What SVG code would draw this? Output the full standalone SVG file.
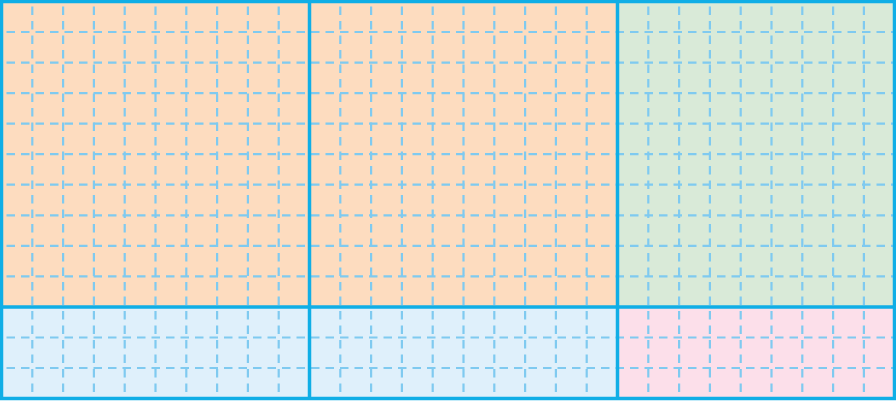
<svg xmlns="http://www.w3.org/2000/svg" width="896" height="401" viewBox="0 0 896 401">
<style>
.cell{stroke:none}
.grid{fill:none;stroke:#7fcaf0;stroke-width:2.2;stroke-dasharray:8.5 6}
.frame{fill:none;stroke:#10aee6;stroke-width:3.5}
</style>
<rect width="896" height="401" fill="#ffffff"/>
<g id="cells">
<rect id="cellA" class="cell" x="1.5" y="1.5" width="308" height="305.5" fill="#fddcbf"/>
<rect id="cellB" class="cell" x="309.5" y="1.5" width="308" height="305.5" fill="#fddcbf"/>
<rect id="cellC" class="cell" x="617.5" y="1.5" width="277" height="305.5" fill="#d9ead8"/>
<rect id="cellD" class="cell" x="1.5" y="307" width="308" height="91.5" fill="#dff0fb"/>
<rect id="cellE" class="cell" x="309.5" y="307" width="308" height="91.5" fill="#dff0fb"/>
<rect id="cellF" class="cell" x="617.5" y="307" width="277" height="91.5" fill="#fcdfea"/>
</g>
<g id="grid" class="grid" stroke-dashoffset="-5">
<path d="M32.3 1.5V398.5M63.1 1.5V398.5M93.9 1.5V398.5M124.7 1.5V398.5M155.5 1.5V398.5M186.3 1.5V398.5M217.1 1.5V398.5M247.9 1.5V398.5M278.7 1.5V398.5M340.3 1.5V398.5M371.1 1.5V398.5M401.9 1.5V398.5M432.7 1.5V398.5M463.5 1.5V398.5M494.3 1.5V398.5M525.1 1.5V398.5M555.9 1.5V398.5M586.7 1.5V398.5M648.3 1.5V398.5M679.1 1.5V398.5M709.9 1.5V398.5M740.7 1.5V398.5M771.5 1.5V398.5M802.3 1.5V398.5M833.1 1.5V398.5M863.9 1.5V398.5"/>
<path d="M1.5 32H894.5M1.5 62.6H894.5M1.5 93.1H894.5M1.5 123.7H894.5M1.5 154.2H894.5M1.5 184.7H894.5M1.5 215.3H894.5M1.5 245.8H894.5M1.5 276.4H894.5M1.5 337.5H894.5M1.5 368H894.5"/>
</g>
<g id="frame" class="frame">
<rect x="1.5" y="1.5" width="893" height="397"/>
<path d="M309.5 1.5V398.5M617.5 1.5V398.5M1.5 307H894.5"/>
</g>
</svg>
